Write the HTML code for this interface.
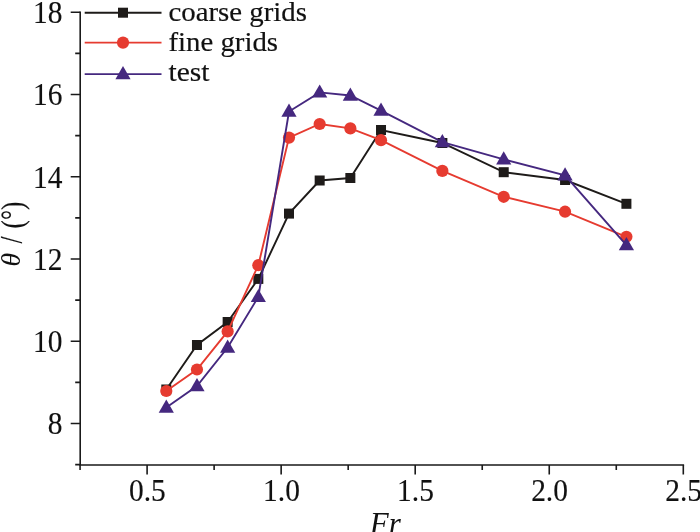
<!DOCTYPE html>
<html><head><meta charset="utf-8"><style>
html,body{margin:0;padding:0;background:#fff;width:700px;height:532px;overflow:hidden}
svg{display:block;will-change:transform}
.n{font-family:"Liberation Serif",serif;font-size:31px;fill:#111;stroke:#111;stroke-width:0.15px}
.i{font-family:"Liberation Serif",serif;font-style:italic;font-size:31px;fill:#111}
.lg{font-family:"Liberation Serif",serif;font-size:28px;fill:#111;stroke:#111;stroke-width:0.18px}
</style></head><body>
<svg width="700" height="532" viewBox="0 0 700 532">
<rect width="700" height="532" fill="#fff"/>
<path d="M80.2 12.3V465.0H683.3" fill="none" stroke="#1a1a1a" stroke-width="1.6" stroke-linecap="square"/>
<path d="M75.20 464.62H80.2M70.70 423.50H80.2M75.20 382.38H80.2M70.70 341.26H80.2M75.20 300.14H80.2M70.70 259.02H80.2M75.20 217.90H80.2M70.70 176.78H80.2M75.20 135.66H80.2M70.70 94.54H80.2M75.20 53.42H80.2M70.70 12.30H80.2M80.07 465.0V470.00M147.10 465.0V474.50M214.12 465.0V470.00M281.15 465.0V474.50M348.18 465.0V470.00M415.20 465.0V474.50M482.23 465.0V470.00M549.25 465.0V474.50M616.28 465.0V470.00M683.30 465.0V474.50" fill="none" stroke="#1a1a1a" stroke-width="1.6"/>
<text transform="translate(62.4 434.30) scale(0.95 1)" text-anchor="end" class="n">8</text>
<text transform="translate(62.4 352.06) scale(0.95 1)" text-anchor="end" class="n">10</text>
<text transform="translate(62.4 269.82) scale(0.95 1)" text-anchor="end" class="n">12</text>
<text transform="translate(62.4 187.58) scale(0.95 1)" text-anchor="end" class="n">14</text>
<text transform="translate(62.4 105.34) scale(0.95 1)" text-anchor="end" class="n">16</text>
<text transform="translate(62.4 23.10) scale(0.95 1)" text-anchor="end" class="n">18</text>
<text transform="translate(147.40 501.2) scale(0.95 1)" text-anchor="middle" class="n">0.5</text>
<text transform="translate(281.45 501.2) scale(0.95 1)" text-anchor="middle" class="n">1.0</text>
<text transform="translate(415.50 501.2) scale(0.95 1)" text-anchor="middle" class="n">1.5</text>
<text transform="translate(549.55 501.2) scale(0.95 1)" text-anchor="middle" class="n">2.0</text>
<text transform="translate(683.60 501.2) scale(0.95 1)" text-anchor="middle" class="n">2.5</text>
<text x="385.3" y="533.7" text-anchor="middle" class="i">Fr</text>
<text transform="translate(19.9 259.6) rotate(-90)" text-anchor="middle" class="i" style="font-size:27.6px">θ</text>
<text transform="translate(22.3 239.95) rotate(-90) scale(0.835 1)" text-anchor="middle" class="n" style="font-size:30.6px">/</text>
<text transform="translate(22.9 215.1) rotate(-90) scale(0.82 1)" text-anchor="middle" class="n" style="font-size:30.5px">(°)</text>
<polyline points="166.30,389.50 196.97,345.00 227.65,322.00 258.32,278.90 289.00,213.60 319.67,180.50 350.35,178.00 381.02,130.00 442.37,143.00 503.72,172.20 565.07,180.00 626.41,203.80" fill="none" stroke="#1e1b19" stroke-width="1.9" stroke-linejoin="miter"/>
<rect x="161.30" y="384.50" width="10.0" height="10.0" fill="#1e1b19"/>
<rect x="191.97" y="340.00" width="10.0" height="10.0" fill="#1e1b19"/>
<rect x="222.65" y="317.00" width="10.0" height="10.0" fill="#1e1b19"/>
<rect x="253.32" y="273.90" width="10.0" height="10.0" fill="#1e1b19"/>
<rect x="284.00" y="208.60" width="10.0" height="10.0" fill="#1e1b19"/>
<rect x="314.67" y="175.50" width="10.0" height="10.0" fill="#1e1b19"/>
<rect x="345.35" y="173.00" width="10.0" height="10.0" fill="#1e1b19"/>
<rect x="376.02" y="125.00" width="10.0" height="10.0" fill="#1e1b19"/>
<rect x="437.37" y="138.00" width="10.0" height="10.0" fill="#1e1b19"/>
<rect x="498.72" y="167.20" width="10.0" height="10.0" fill="#1e1b19"/>
<rect x="560.07" y="175.00" width="10.0" height="10.0" fill="#1e1b19"/>
<rect x="621.41" y="198.80" width="10.0" height="10.0" fill="#1e1b19"/>
<polyline points="166.30,391.00 196.97,369.50 227.65,331.40 258.32,265.20 289.00,137.60 319.67,124.00 350.35,128.40 381.02,140.20 442.37,170.90 503.72,196.80 565.07,211.70 626.41,236.80" fill="none" stroke="#e63b30" stroke-width="1.9" stroke-linejoin="miter"/>
<circle cx="166.30" cy="391.00" r="6.1" fill="#e63b30"/>
<circle cx="196.97" cy="369.50" r="6.1" fill="#e63b30"/>
<circle cx="227.65" cy="331.40" r="6.1" fill="#e63b30"/>
<circle cx="258.32" cy="265.20" r="6.1" fill="#e63b30"/>
<circle cx="289.00" cy="137.60" r="6.1" fill="#e63b30"/>
<circle cx="319.67" cy="124.00" r="6.1" fill="#e63b30"/>
<circle cx="350.35" cy="128.40" r="6.1" fill="#e63b30"/>
<circle cx="381.02" cy="140.20" r="6.1" fill="#e63b30"/>
<circle cx="442.37" cy="170.90" r="6.1" fill="#e63b30"/>
<circle cx="503.72" cy="196.80" r="6.1" fill="#e63b30"/>
<circle cx="565.07" cy="211.70" r="6.1" fill="#e63b30"/>
<circle cx="626.41" cy="236.80" r="6.1" fill="#e63b30"/>
<polyline points="166.30,407.50 196.97,386.10 227.65,347.50 258.32,296.90 289.00,111.50 319.67,92.40 350.35,95.50 381.02,110.60 442.37,142.10 503.72,159.30 565.07,175.30 626.41,245.10" fill="none" stroke="#45287f" stroke-width="1.9" stroke-linejoin="miter"/>
<path d="M166.30 399.50L173.90 412.70H158.70Z" fill="#45287f"/>
<path d="M196.97 378.10L204.57 391.30H189.37Z" fill="#45287f"/>
<path d="M227.65 339.50L235.25 352.70H220.05Z" fill="#45287f"/>
<path d="M258.32 288.90L265.92 302.10H250.72Z" fill="#45287f"/>
<path d="M289.00 103.50L296.60 116.70H281.40Z" fill="#45287f"/>
<path d="M319.67 84.40L327.27 97.60H312.07Z" fill="#45287f"/>
<path d="M350.35 87.50L357.95 100.70H342.75Z" fill="#45287f"/>
<path d="M381.02 102.60L388.62 115.80H373.42Z" fill="#45287f"/>
<path d="M442.37 134.10L449.97 147.30H434.77Z" fill="#45287f"/>
<path d="M503.72 151.30L511.32 164.50H496.12Z" fill="#45287f"/>
<path d="M565.07 167.30L572.67 180.50H557.47Z" fill="#45287f"/>
<path d="M626.41 237.10L634.01 250.30H618.81Z" fill="#45287f"/>
<path d="M84.7 12.7H161.5" stroke="#1e1b19" stroke-width="1.9"/>
<rect x="118.00" y="7.70" width="10.0" height="10.0" fill="#1e1b19"/>
<text x="168.5" y="20.9" class="lg" textLength="138.5" lengthAdjust="spacingAndGlyphs">coarse grids</text>
<path d="M84.7 42.6H161.5" stroke="#e63b30" stroke-width="1.9"/>
<circle cx="123.00" cy="42.60" r="6.1" fill="#e63b30"/>
<text x="168.5" y="50.8" class="lg" textLength="109.5" lengthAdjust="spacingAndGlyphs">fine grids</text>
<path d="M84.7 74.1H161.5" stroke="#45287f" stroke-width="1.9"/>
<path d="M123.00 66.10L130.60 79.30H115.40Z" fill="#45287f"/>
<text x="168.5" y="80.60000000000001" class="lg" textLength="41" lengthAdjust="spacingAndGlyphs">test</text>
</svg></body></html>
